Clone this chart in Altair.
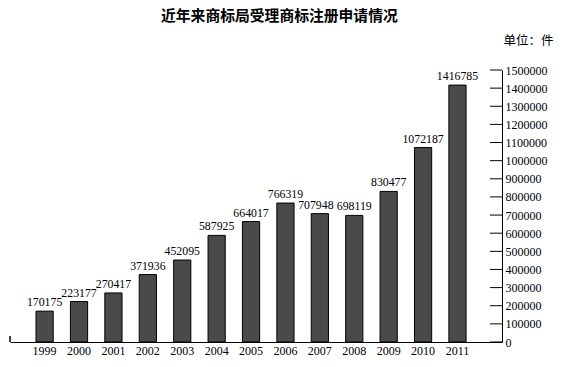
import altair as alt
import pandas as pd

years = ["1999", "2000", "2001", "2002", "2003", "2004", "2005",
         "2006", "2007", "2008", "2009", "2010", "2011"]
applications = [170175, 223177, 270417, 371936, 452095, 587925, 664017,
                766319, 707948, 698119, 830477, 1072187, 1416785]
y_ticks = list(range(0, 1500001, 100000))

title_text = "近年来商标局受理商标注册申请情况"
unit_text = "单位：件"

df = pd.DataFrame({"year": years, "value": applications})
ticks_df = pd.DataFrame({"value": y_ticks})
corner_df = pd.DataFrame({"k": [0]})

W, H = 492, 272
SERIF = "Liberation Serif"
CJK = "Noto Sans CJK SC"

yscale = alt.Scale(domain=[0, 1500000], nice=False, zero=True)
yaxis = alt.Axis(orient="right", values=y_ticks, ticks=False,
                 domain=True, domainColor="black", domainWidth=1,
                 grid=False, format="d",
                 labelFont=SERIF, labelFontSize=12, labelColor="black",
                 labelPadding=3,
                 title=unit_text, titleAngle=0, titleX=1, titleY=-30,
                 titleAlign="left", titleBaseline="middle",
                 titleFont=CJK, titleFontWeight="normal",
                 titleFontSize=12.5, titleColor="black")

x = alt.X(
    "year:N", sort=years,
    scale=alt.Scale(paddingInner=0.5, paddingOuter=0.9, align=0.42),
    axis=alt.Axis(title=None, labelAngle=0, ticks=False, domain=True,
                  domainColor="black", domainWidth=1,
                  labelFont=SERIF, labelFontSize=12, labelColor="black",
                  labelPadding=3),
)
x_plain = alt.X("year:N", sort=years)

bars = alt.Chart(df).mark_bar(color="#4a4a4a", stroke="black", strokeWidth=1).encode(
    x=x,
    y=alt.Y("value:Q", scale=yscale, axis=yaxis),
)

labels = alt.Chart(df).transform_filter(alt.datum.year != "2007").mark_text(
    baseline="bottom", dy=-3, font=SERIF, fontSize=11.8, color="black").encode(
    x=x_plain,
    y=alt.Y("value:Q", scale=yscale, axis=yaxis),
    text=alt.Text("value:Q", format="d"),
)

labels_shift = alt.Chart(df).transform_filter(alt.datum.year == "2007").mark_text(
    baseline="bottom", dy=-3, dx=-4, font=SERIF, fontSize=11.8, color="black").encode(
    x=x_plain,
    y=alt.Y("value:Q", scale=yscale, axis=yaxis),
    text=alt.Text("value:Q", format="d"),
)

tick_marks = alt.Chart(ticks_df).mark_rule(color="black", strokeWidth=1).encode(
    y=alt.Y("value:Q", scale=yscale, axis=yaxis),
    x=alt.value(W - 12),
    x2=alt.value(W),
)

corner = alt.Chart(corner_df).mark_rule(color="black", strokeWidth=1.5).encode(
    x=alt.value(0),
    y=alt.value(H - 6),
    y2=alt.value(H),
)

chart = alt.layer(bars, labels, labels_shift, tick_marks, corner).properties(
    width=W, height=H,
    background="white",
    title=alt.TitleParams(title_text, anchor="start", frame="group", dx=151,
                          offset=10, font=CJK, fontSize=14.8, fontWeight="bold",
                          color="black"),
    autosize=alt.AutoSizeParams(type="none"),
    padding={"left": 10, "top": 70, "right": 67, "bottom": 25},
).configure_view(strokeWidth=0, stroke=None)

chart.save("out.html", embed_options={"renderer": "svg", "actions": False})
